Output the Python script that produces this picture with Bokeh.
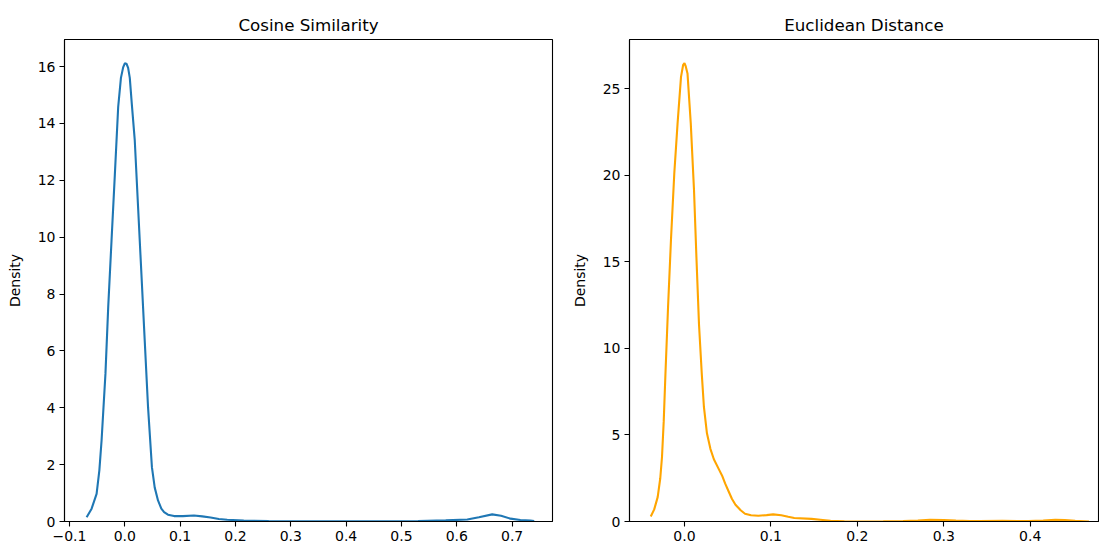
from bokeh.plotting import figure
from bokeh.layouts import row
from bokeh.models import FixedTicker, CustomJSTickFormatter, Range1d
from bokeh.embed import file_html
from bokeh.resources import INLINE

# ---- data (KDE curves) ----
cos_x = [-0.069, -0.060, -0.051, -0.046, -0.042, -0.035, -0.030, -0.024, -0.018, -0.012,
         -0.007, -0.003, 0.000, 0.003, 0.006, 0.009, 0.013, 0.018, 0.024, 0.030,
         0.036, 0.042, 0.049, 0.054, 0.060, 0.066, 0.071, 0.078, 0.089, 0.105,
         0.125, 0.140, 0.155, 0.170, 0.185, 0.215, 0.260, 0.350, 0.450, 0.530,
         0.580, 0.619, 0.640, 0.664, 0.680, 0.697, 0.715, 0.733, 0.740]
cos_y = [0.15, 0.45, 0.97, 1.80, 2.85, 5.19, 7.54, 9.88, 12.2, 14.57,
         15.6, 15.97, 16.11, 16.10, 15.95, 15.6, 14.6, 13.4, 11.05, 8.71,
         6.36, 4.02, 1.91, 1.20, 0.74, 0.45, 0.33, 0.24, 0.19, 0.19,
         0.21, 0.18, 0.14, 0.09, 0.06, 0.03, 0.015, 0.01, 0.01, 0.02,
         0.04, 0.07, 0.15, 0.25, 0.20, 0.10, 0.05, 0.03, 0.02]

euc_x = [-0.039, -0.035, -0.031, -0.028, -0.026, -0.024, -0.022, -0.019, -0.0156, -0.0118,
         -0.008, -0.004, -0.0015, 0.000, 0.0015, 0.0035, 0.0073, 0.011, 0.0138, 0.0168,
         0.020, 0.0225, 0.026, 0.030, 0.034, 0.040, 0.044, 0.047, 0.051, 0.055,
         0.059, 0.065, 0.070, 0.077, 0.0855, 0.095, 0.1026, 0.112, 0.120, 0.127,
         0.147, 0.160, 0.169, 0.185, 0.196, 0.230, 0.253, 0.270, 0.284, 0.300,
         0.314, 0.330, 0.341, 0.368, 0.385, 0.398, 0.415, 0.429, 0.440, 0.452, 0.468]
euc_y = [0.29, 0.70, 1.41, 2.50, 3.73, 5.80, 8.55, 12.4, 16.3, 20.1,
         23.0, 25.7, 26.4, 26.5, 26.3, 25.9, 23.0, 19.2, 15.3, 11.4,
         8.55, 6.62, 5.10, 4.20, 3.60, 3.00, 2.60, 2.20, 1.75, 1.30,
         0.97, 0.65, 0.45, 0.36, 0.33, 0.37, 0.41, 0.36, 0.27, 0.20,
         0.15, 0.09, 0.04, 0.01, 0.00, 0.005, 0.02, 0.06, 0.10, 0.09,
         0.06, 0.03, 0.02, 0.04, 0.03, 0.02, 0.05, 0.10, 0.08, 0.04, 0.00]

cos_xticks = [-0.1, 0.0, 0.1, 0.2, 0.3, 0.4, 0.5, 0.6, 0.7]
cos_yticks = [0, 2, 4, 6, 8, 10, 12, 14, 16]
euc_xticks = [0.0, 0.1, 0.2, 0.3, 0.4]
euc_yticks = [0, 5, 10, 15, 20, 25]

FONT = "DejaVu Sans"
fmt = CustomJSTickFormatter(code='return (tick < 0 ? "\\u2212" : "") + Math.abs(tick).toFixed(1);')


def make(title, xs, ys, color, xr, yr, xticks, yticks, width, mbl, mbr):
    p = figure(width=width, height=547, output_backend="svg", toolbar_location=None,
               x_range=Range1d(*xr), y_range=Range1d(*yr),
               min_border_left=mbl, min_border_right=mbr, min_border_top=39,
               min_border_bottom=26)
    p.line(xs, ys, line_color=color, line_width=2.1)
    p.title.text = title
    p.title.align = "center"
    p.title.text_font = FONT
    p.title.text_font_size = "16.7px"
    p.title.text_font_style = "normal"
    p.title.text_color = "black"
    p.title.standoff = 9
    p.grid.visible = False
    p.outline_line_color = "black"
    p.outline_line_width = 1.1
    p.outline_line_alpha = 1.0
    for ax in (p.xaxis[0], p.yaxis[0]):
        ax.axis_line_color = "black"
        ax.axis_line_width = 1.1
        ax.major_tick_line_color = "black"
        ax.major_tick_line_width = 1.1
        ax.major_tick_in = 0
        ax.major_tick_out = 5
        ax.minor_tick_line_color = None
        ax.major_label_text_font = FONT
        ax.major_label_text_font_size = "14px"
        ax.major_label_text_color = "black"
    p.xaxis.ticker = FixedTicker(ticks=xticks)
    p.xaxis.formatter = fmt
    p.xaxis.major_label_standoff = 4
    p.yaxis.ticker = FixedTicker(ticks=yticks)
    p.yaxis.major_label_standoff = 4
    p.yaxis.axis_label = "Density"
    p.yaxis.axis_label_text_font = FONT
    p.yaxis.axis_label_text_font_size = "14px"
    p.yaxis.axis_label_text_font_style = "normal"
    p.yaxis.axis_label_text_color = "black"
    p.yaxis.axis_label_standoff = 12
    return p


p1 = make("Cosine Similarity", cos_x, cos_y, "#1f77b4", (-0.109, 0.773), (0, 16.95),
          cos_xticks, cos_yticks, 568, 64, 16)
p2 = make("Euclidean Distance", euc_x, euc_y, "#FFA500", (-0.0636, 0.479), (0, 27.86),
          euc_xticks, euc_yticks, 531, 55, 1)

layout = row(p1, p2)
open("out.html", "w").write(file_html(layout, INLINE))
